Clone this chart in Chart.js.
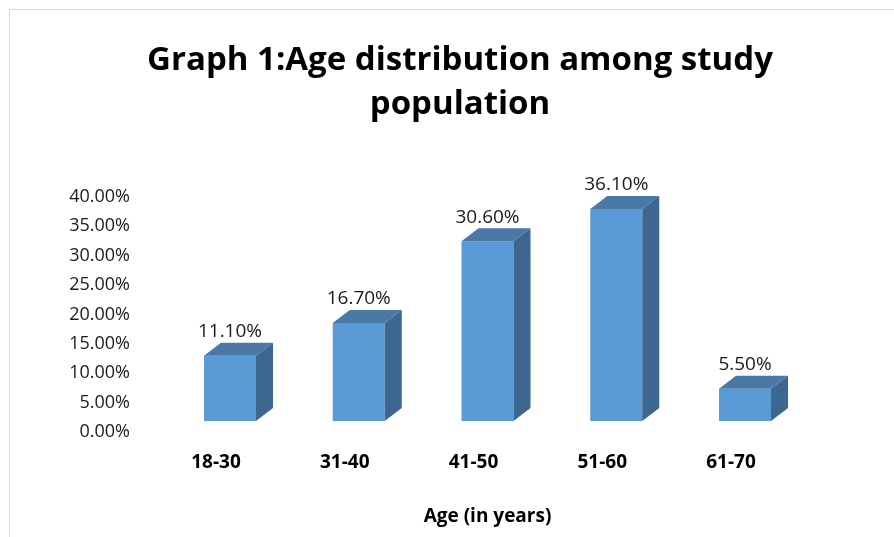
<!DOCTYPE html>
<html>
<head>
<meta charset="utf-8">
<script src="https://cdn.jsdelivr.net/npm/chart.js@4"></script>
<style>
  html, body { margin: 0; padding: 0; background: #ffffff; }
  #wrap { position: relative; width: 894px; height: 537px; }
  canvas { display: block; }
</style>
</head>
<body>
<div id="wrap"><canvas id="c" width="894" height="537"></canvas></div>
<script>
const categories = ['18-30', '31-40', '41-50', '51-60', '61-70'];
const percentValues = [11.1, 16.7, 30.6, 36.1, 5.5];
const yTickValues = [0, 5, 10, 15, 20, 25, 30, 35, 40];
const titleLines = ['Graph 1:Age distribution among study', 'population'];
const xAxisTitle = 'Age (in years)';

const FRONT = '#5B9BD5';
const TOP = '#4A79A8';
const SIDE = '#3D6690';
const DX = 17, DY = 13;

const framePlugin = {
  id: 'frame',
  beforeDraw(chart) {
    const ctx = chart.ctx;
    ctx.save();
    ctx.strokeStyle = '#d9d9d9';
    ctx.lineWidth = 1;
    ctx.beginPath();
    ctx.moveTo(9.5, chart.height);
    ctx.lineTo(9.5, 9.5);
    ctx.lineTo(chart.width, 9.5);
    ctx.stroke();
    ctx.restore();
  }
};

const bar3dPlugin = {
  id: 'bar3d',
  afterDatasetsDraw(chart) {
    const ctx = chart.ctx;
    const meta = chart.getDatasetMeta(0);
    ctx.save();
    meta.data.forEach((bar, i) => {
      const p = bar.getProps(['x', 'y', 'base', 'width'], true);
      const l = p.x - p.width / 2, r = p.x + p.width / 2;
      const t = p.y, b = p.base;
      // top face
      ctx.fillStyle = TOP;
      ctx.beginPath();
      ctx.moveTo(l, t);
      ctx.lineTo(l + DX, t - DY);
      ctx.lineTo(r + DX, t - DY);
      ctx.lineTo(r, t);
      ctx.closePath();
      ctx.fill();
      // side face
      ctx.fillStyle = SIDE;
      ctx.beginPath();
      ctx.moveTo(r, t);
      ctx.lineTo(r + DX, t - DY);
      ctx.lineTo(r + DX, b - DY);
      ctx.lineTo(r, b);
      ctx.closePath();
      ctx.fill();
      // value label
      ctx.fillStyle = '#1a1a1a';
      ctx.font = '19px "Open Sans", sans-serif';
      ctx.textAlign = 'center';
      ctx.textBaseline = 'middle';
      ctx.fillText(percentValues[i].toFixed(2) + '%', p.x, t - 24);
    });
    ctx.restore();
  }
};

new Chart(document.getElementById('c'), {
  type: 'bar',
  data: {
    labels: categories,
    datasets: [{
      data: percentValues,
      backgroundColor: FRONT,
      borderWidth: 0,
      categoryPercentage: 1,
      barPercentage: 0.404
    }]
  },
  options: {
    responsive: false,
    animation: false,
    layout: { padding: { left: 26, right: 0, top: 0, bottom: 0 } },
    plugins: {
      legend: { display: false },
      tooltip: { enabled: false },
      title: {
        display: true,
        text: titleLines,
        color: '#000000',
        font: { family: '"Open Sans", sans-serif', size: 33, weight: 'bold', lineHeight: 1.3333 },
        padding: { top: 39, bottom: 59 }
      }
    },
    scales: {
      x: {
        offset: true,
        grid: { display: false, drawTicks: false },
        border: { display: false },
        ticks: {
          color: '#000000',
          font: { family: '"Open Sans", sans-serif', size: 19, weight: 'bold' },
          padding: 30,
          labelOffset: -14,
          maxRotation: 0
        },
        title: {
          display: true,
          text: xAxisTitle,
          color: '#000000',
          font: { family: '"Open Sans", sans-serif', size: 19, weight: 'bold' },
          padding: { top: 0, bottom: 9 }
        },
        afterFit(scale) { scale.height = 116; }
      },
      y: {
        min: 0,
        max: 40,
        grid: { display: false, drawTicks: false },
        border: { display: false },
        afterBuildTicks(scale) { scale.ticks = yTickValues.map(v => ({ value: v })); },
        ticks: {
          color: '#1a1a1a',
          font: { family: '"Open Sans", sans-serif', size: 18 },
          padding: 35.6,
          labelOffset: 11,
          callback: v => v.toFixed(2) + '%'
        },
        afterFit(scale) { scale.width = 139.6; }
      },
      y2: {
        position: 'right',
        min: 0,
        max: 40,
        grid: { display: false, drawTicks: false },
        border: { display: false },
        ticks: { display: false },
        afterFit(scale) { scale.width = 84.6; }
      }
    }
  },
  plugins: [framePlugin, bar3dPlugin]
});
</script>
</body>
</html>
